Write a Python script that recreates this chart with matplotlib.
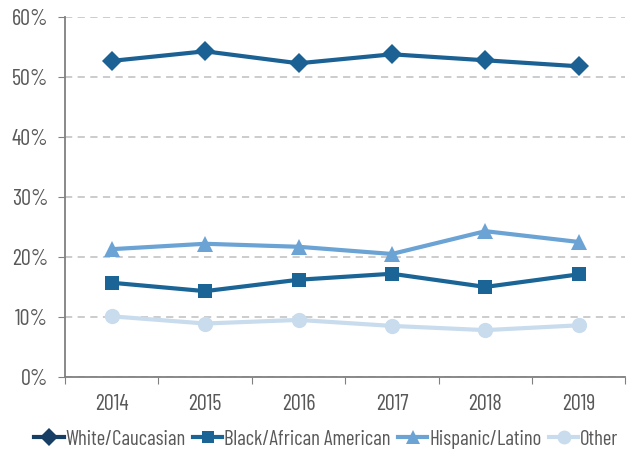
import matplotlib.pyplot as plt
from matplotlib.lines import Line2D
import matplotlib.ticker as mtick

# DATA (percent)
years = ["2014", "2015", "2016", "2017", "2018", "2019"]
white = [52.7, 54.3, 52.3, 53.8, 52.8, 51.8]
black = [15.7, 14.3, 16.2, 17.2, 15.0, 17.1]
hispanic = [21.3, 22.2, 21.7, 20.5, 24.3, 22.5]
other = [10.1, 8.9, 9.5, 8.5, 7.8, 8.6]
labels = ["White/Caucasian", "Black/African American", "Hispanic/Latino", "Other"]

plt.rcParams['font.family'] = ['Barlow Condensed', 'DejaVu Sans']
plt.rcParams['font.weight'] = 'normal'
txt = '#595959'

fig = plt.figure(figsize=(6.34, 4.63), dpi=100)
ax = fig.add_axes([0.1025, 0.186, 0.884, 0.777])

x = range(len(years))
series = [
    (white, '#1b6193', 'D', 10, '#173f66'),
    (black, '#1a6496', 's', 10, '#1a6496'),
    (hispanic, '#6aa3d4', '^', 11, '#6aa3d4'),
    (other, '#c8dcee', 'o', 11, '#c8dcee'),
]
handles = []
for (vals, col, mk, ms, lcol), lab in zip(series, labels):
    ax.plot(x, vals, color=col, linewidth=3, marker=mk, markersize=ms,
            markeredgewidth=0, zorder=3)
    handles.append(Line2D([0], [0], color=lcol, linewidth=3, marker=mk,
                          markersize=ms - 1, markeredgewidth=0, label=lab))

ax.set_xlim(-0.5, 5.5)
ax.set_ylim(0, 60)
ax.yaxis.set_major_locator(mtick.MultipleLocator(10))
ax.yaxis.set_major_formatter(mtick.FormatStrFormatter('%d%%'))
ax.grid(axis='y', color='#c8c8c8', linestyle=(0, (4, 3)), linewidth=1.3, zorder=0)
ax.set_axisbelow(True)

ax.set_xticks([i - 0.5 for i in range(len(years) + 1)])
ax.set_xticklabels([])
ax.set_xticks(list(x), minor=True)
ax.set_xticklabels(years, minor=True)
ax.tick_params(axis='x', which='minor', length=0, pad=12)
ax.tick_params(axis='x', which='major', length=5, color='#808080')
ax.tick_params(axis='y', length=5, color='#808080', pad=7)
ax.tick_params(axis='both', which='both', labelsize=16, labelcolor=txt)

for s in ['top', 'right']:
    ax.spines[s].set_visible(False)
for s in ['left', 'bottom']:
    ax.spines[s].set_color('#808080')
    ax.spines[s].set_linewidth(1.3)

fig.legend(handles=handles, loc='lower center', bbox_to_anchor=(0.515, -0.005),
           ncol=4, frameon=False, fontsize=15, labelcolor=txt,
           handlelength=1.4, handletextpad=0.1, columnspacing=0.35,
           borderpad=0.3)

plt.savefig('out.png', dpi=100)
